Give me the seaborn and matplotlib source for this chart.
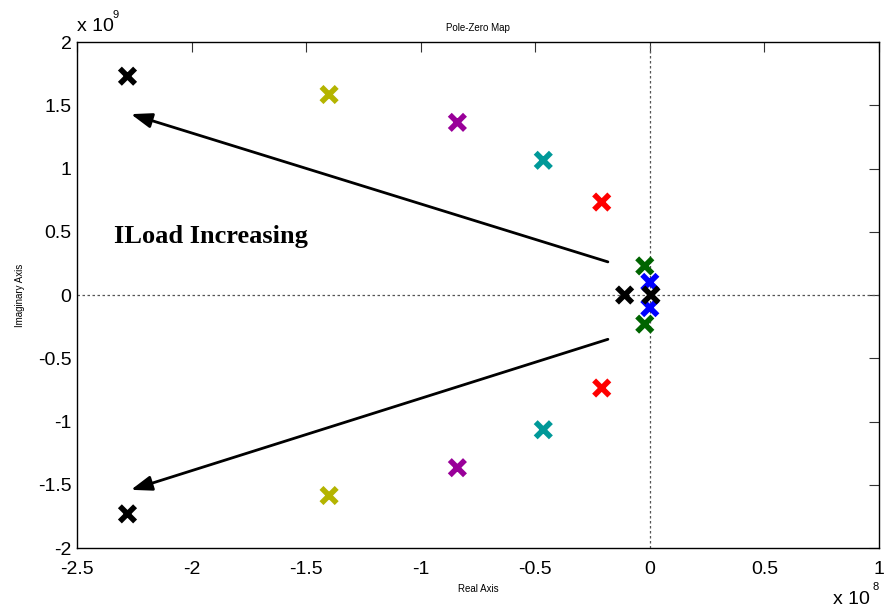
import numpy as np
import pandas as pd
import seaborn as sns
import matplotlib
matplotlib.use("Agg")
import matplotlib.pyplot as plt

# pole locations (real in 1e8, imag in 1e9)
groups = ["k1", "olive", "purple", "teal", "red", "green", "blue", "k2", "k3"]
real_part = [-2.28, -1.40, -0.84, -0.465, -0.21, -0.022, 0.0, -0.11, 0.005]
imag_part = [1.73, 1.585, 1.365, 1.065, 0.735, 0.23, 0.10, 0.0, 0.0]
colors = ["black", "#b4b400", "#990099", "#009999", "#ff0000", "#006400", "#0000ff", "black", "black"]

# build conjugate pairs
rows = []
for g, re, im in zip(groups, real_part, imag_part):
    rows.append({"group": g, "re": re, "im": im})
    if im != 0:
        rows.append({"group": g, "re": re, "im": -im})
poles = pd.DataFrame(rows)

sns.set_style("white")
plt.rcParams["font.family"] = ["Liberation Sans", "DejaVu Sans"]
plt.rcParams["text.color"] = "black"
plt.rcParams["xtick.color"] = "black"
plt.rcParams["ytick.color"] = "black"
plt.rcParams["axes.labelcolor"] = "black"

fig = plt.figure(figsize=(8.86, 6.1), dpi=100)
ax = fig.add_axes([0.087, 0.1016, 0.905, 0.8295])

ax.axhline(0, color="#555555", linestyle=(0, (2, 2)), linewidth=0.9, zorder=1)
ax.axvline(0, color="#555555", linestyle=(0, (2, 2)), linewidth=0.9, zorder=1)

sns.scatterplot(data=poles, x="re", y="im", hue="group",
                palette=dict(zip(groups, colors)), marker="x",
                s=120, linewidth=4, legend=False, ax=ax, zorder=3)

# arrows showing the load trend
arrow = dict(arrowstyle="-|>,head_length=0.7,head_width=0.25", color="black",
             lw=2, mutation_scale=18, shrinkA=0, shrinkB=0)
ax.annotate("", xy=(-2.265, 1.43), xytext=(-0.183, 0.262), arrowprops=arrow)
ax.annotate("", xy=(-2.265, -1.54), xytext=(-0.183, -0.35), arrowprops=arrow)
ax.text(-2.34, 0.46, "ILoad Increasing", fontsize=19, fontweight="bold",
        family="Liberation Serif", color="black", va="center", ha="left")

ax.set_xlim(-2.5, 1)
ax.set_ylim(-2, 2)
ax.set_xticks(np.arange(-2.5, 1.01, 0.5))
ax.set_yticks(np.arange(-2, 2.01, 0.5))
ax.set_xticklabels(["-2.5", "-2", "-1.5", "-1", "-0.5", "0", "0.5", "1"])
ax.set_yticklabels(["-2", "-1.5", "-1", "-0.5", "0", "0.5", "1", "1.5", "2"])
ax.tick_params(direction="in", length=7, width=0.8, labelsize=14,
               top=True, right=True, color="#333333")
ax.tick_params(axis="x", pad=9)
ax.tick_params(axis="y", pad=4)
for sp in ax.spines.values():
    sp.set_linewidth(1.0)
    sp.set_color("black")

ax.set_title("Pole-Zero Map", fontsize=7, pad=8)
ax.set_xlabel("Real Axis", fontsize=7, labelpad=5)
ax.set_ylabel("Imaginary Axis", fontsize=7, labelpad=9)

# exponent labels like matlab
fig.text(0.087, 0.942, "x 10", fontsize=14, ha="left", va="bottom")
fig.text(0.127, 0.968, "9", fontsize=8, ha="left", va="bottom")
fig.text(0.940, 0.003, "x 10", fontsize=14, ha="left", va="bottom")
fig.text(0.985, 0.030, "8", fontsize=8, ha="left", va="bottom")

fig.savefig("out.png", dpi=100)
